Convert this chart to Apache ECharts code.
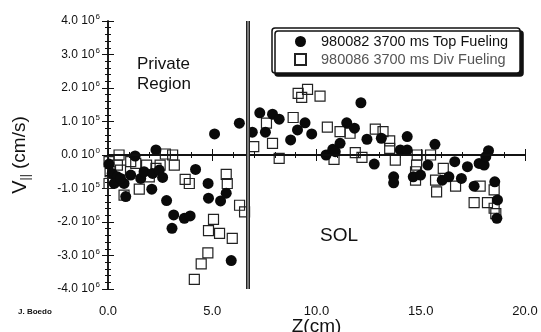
<!DOCTYPE html>
<html>
<head>
<meta charset="utf-8">
<script src="https://cdn.jsdelivr.net/npm/echarts@6/dist/echarts.min.js"></script>
<style>
  html, body { margin: 0; padding: 0; background: #fff; }
  #chart { width: 541px; height: 332px; }
</style>
</head>
<body>
<div id="chart"></div>
<script>
// Parallel flow velocity vs. distance Z, two discharges (values in units of 10^6 cm/s)
const seriesNames = ['980082 3700 ms Top Fueling', '980086 3700 ms Div Fueling'];

const topFueling = [
  [0.05,-0.27],[0.2,-0.55],[0.45,-0.65],[0.3,-0.85],[0.77,-0.85],[0.85,-1.24],[1.09,-0.6],
  [1.3,-0.03],[1.57,-0.7],[1.73,-0.5],[2.14,-0.55],[2.1,-1.02],[2.3,0.15],[2.46,-0.45],
  [2.62,-0.67],[0.6,-0.7],
  [4.2,-0.43],[4.8,-0.85],[4.82,-1.29],[5.4,-1.37],[5.67,-1.14],[2.81,-1.36],[3.15,-1.79],
  [3.66,-1.89],[3.94,-1.82],[3.07,-2.19],[5.91,-3.15],[5.11,0.63],[6.3,0.95],
  [6.92,0.68],[7.28,1.26],[7.55,0.68],[7.89,1.22],[8.21,1.07],[8.76,0.45],[9.09,0.75],
  [9.45,0.96],[9.77,0.63],[10.46,0.0],[10.78,0.17],[11.13,0.35],[10.9,0.1],[11.45,0.96],
  [11.82,0.8],[12.13,1.56],[12.42,0.47],[12.77,-0.27],[13.11,0.5],[13.7,-0.65],[13.7,-0.83],
  [14.02,0.15],[14.35,0.55],[14.35,0.15],[14.64,-0.65],[14.99,-0.6],[15.34,-0.3],[15.68,0.32],
  [16.03,-0.75],[16.35,-0.65],[16.63,-0.2],[16.95,-0.7],[17.24,-0.35],[17.56,-0.93],
  [17.8,-0.25],[18.04,-0.3],[18.12,-0.05],[18.25,0.13],[18.55,-0.8],[18.68,-1.34],[18.65,-1.89]
];

const divFueling = [
  [0.05,-0.2],[0.1,-0.5],[0.05,-0.85],[0.53,0.0],[0.45,-0.3],[0.6,-0.45],[1.09,-0.2],
  [0.77,-1.2],[1.33,-0.25],[1.5,-1.02],[1.85,-0.3],[2.3,-0.4],[1.98,-0.65],[2.75,0.03],
  [3.1,0.0],[3.18,-0.3],[3.7,-0.73],[3.9,-0.85],[2.5,-0.3],
  [5.67,-0.58],[5.72,-0.85],[6.31,-1.5],[6.55,-1.7],[5.06,-1.92],[4.82,-2.26],[5.35,-2.34],
  [5.96,-2.49],[4.79,-2.92],[4.47,-3.25],[4.14,-3.71],
  [6.99,0.25],[7.6,0.95],[7.89,0.35],[8.21,-0.1],[8.88,1.12],[9.12,1.84],[9.29,1.72],
  [9.57,1.96],[10.17,1.76],[10.52,0.83],[10.84,-0.13],[11.13,0.7],[11.61,0.65],[11.86,0.07],
  [12.18,-0.07],[12.82,0.77],[13.19,0.7],[13.51,0.42],[13.51,0.2],[13.78,-0.15],[14.83,0.0],
  [14.8,-0.3],[14.75,-0.5],[14.75,-0.75],[15.47,0.0],[15.71,-0.75],[15.76,-1.1],[16.08,-0.4],
  [16.67,-0.93],[17.56,-1.42],[17.85,-0.93],[18.2,-1.42],[18.52,-1.04],[18.52,-1.59],[18.6,-1.75]
];

// y tick labels: mantissa and power of ten, bottom to top
const yTickValues = [-4, -3, -2, -1, 0, 1, 2, 3, 4];
const yTickMantissa = ['-4.0 10', '-3.0 10', '-2.0 10', '-1.0 10', '0.0 10', '1.0 10', '2.0 10', '3.0 10', '4.0 10'];
const yTickPower = ['6', '6', '6', '5', '0', '5', '6', '6', '6'];

const separatrixZ = 6.7;

const FONT = '"Liberation Sans", Arial, sans-serif';
const chart = echarts.init(document.getElementById('chart'), null, { renderer: 'canvas' });

const tickCommon = {
  axisLine: { show: true, lineStyle: { color: '#111', width: 1.5 } },
  axisTick: { show: true, inside: true, length: 6, lineStyle: { color: '#111', width: 1 } },
  minorTick: { show: true, splitNumber: 5, length: 3, lineStyle: { color: '#111', width: 1 } },
  splitLine: { show: false },
  minorSplitLine: { show: false }
};

chart.setOption({
  animation: false,
  backgroundColor: '#fff',
  grid: { left: 108, right: 16, top: 21, bottom: 43, containLabel: false, outerBoundsMode: 'none' },
  legend: {
    orient: 'vertical',
    left: 272, top: 28,
    width: 245,
    padding: [6, 12, 6, 22],
    itemGap: 3,
    itemWidth: 11, itemHeight: 11,
    backgroundColor: '#fff',
    borderColor: '#111', borderWidth: 1.5, borderRadius: 3,
    shadowColor: '#111', shadowBlur: 0, shadowOffsetX: 3, shadowOffsetY: 3,
    textStyle: { fontFamily: FONT, fontSize: 14.5, color: '#111', padding: [0, 0, 0, 10] },
    data: [
      { name: seriesNames[0], icon: 'circle' },
      { name: seriesNames[1], icon: 'rect', textStyle: { color: '#555' } }
    ]
  },
  xAxis: [
    Object.assign({
      type: 'value', min: 0, max: 20, interval: 5, position: 'bottom',
      axisLabel: { formatter: v => v.toFixed(1), fontFamily: FONT, fontSize: 13, color: '#111', margin: 16 },
      name: 'Z(cm)', nameLocation: 'middle', nameGap: 28, nameMoveOverlap: false,
      nameTextStyle: { fontFamily: FONT, fontSize: 19, color: '#111' }
    }, tickCommon),
    Object.assign({
      type: 'value', min: 0, max: 20, interval: 5, position: 'top',
      axisLabel: { show: false }
    }, tickCommon)
  ],
  yAxis: [
    Object.assign({
      type: 'value', min: -4, max: 4, interval: 1, position: 'left',
      axisLabel: {
        margin: 8,
        formatter: v => {
          const i = yTickValues.indexOf(Math.round(v));
          return '{m|' + yTickMantissa[i] + '}{e|' + yTickPower[i] + '}';
        },
        rich: {
          m: { fontFamily: FONT, fontSize: 12, color: '#111' },
          e: { fontFamily: FONT, fontSize: 8, color: '#111', verticalAlign: 'bottom', padding: [0, 0, 8, 1] }
        }
      },
      name: '{v|V}{s|||}{n| (cm/s)}',
      nameLocation: 'middle', nameGap: 76, nameRotate: 90, nameMoveOverlap: false,
      nameTextStyle: {
        rich: {
          v: { fontFamily: FONT, fontSize: 20, color: '#111' },
          s: { fontFamily: FONT, fontSize: 12, color: '#111', padding: [12, 0, 0, 0] },
          n: { fontFamily: FONT, fontSize: 19, color: '#111' }
        }
      }
    }, tickCommon),
    Object.assign({
      type: 'value', min: -4, max: 4, interval: 1, position: 'right',
      axisLabel: { show: false }
    }, tickCommon)
  ],
  series: [
    {
      name: seriesNames[0], type: 'scatter', xAxisIndex: 0, yAxisIndex: 0,
      symbol: 'circle', symbolSize: 11,
      itemStyle: { color: '#0a0a0a', opacity: 1 },
      data: topFueling, z: 3,
      markLine: {
        silent: true, symbol: 'none', label: { show: false },
        data: [
          { yAxis: 0, lineStyle: { color: '#111', width: 1.5, type: 'solid' } },
          { xAxis: separatrixZ, lineStyle: { color: '#222', width: 4, type: 'solid' } }
        ]
      }
    },
    {
      name: seriesNames[1], type: 'scatter', xAxisIndex: 0, yAxisIndex: 0,
      symbol: 'rect', symbolSize: 10,
      itemStyle: { color: 'rgba(255,255,255,0)', borderColor: '#222', borderWidth: 1.2, opacity: 1 },
      data: divFueling, z: 2,
      markLine: {
        silent: true, symbol: 'none', label: { show: false },
        data: [
          { xAxis: separatrixZ, lineStyle: { color: '#999', width: 1.5, type: 'solid' } }
        ]
      }
    }
  ],
  graphic: [
    { type: 'text', left: 137, top: 54, style: { text: 'Private\nRegion', font: '17px ' + FONT, fill: '#111', lineHeight: 20 } },
    { type: 'text', left: 320, top: 226, style: { text: 'SOL', font: '19px ' + FONT, fill: '#111' } },
    { type: 'text', left: 18, top: 308, style: { text: 'J. Boedo', font: 'bold 8px ' + FONT, fill: '#111' } }
  ]
});
</script>
</body>
</html>
